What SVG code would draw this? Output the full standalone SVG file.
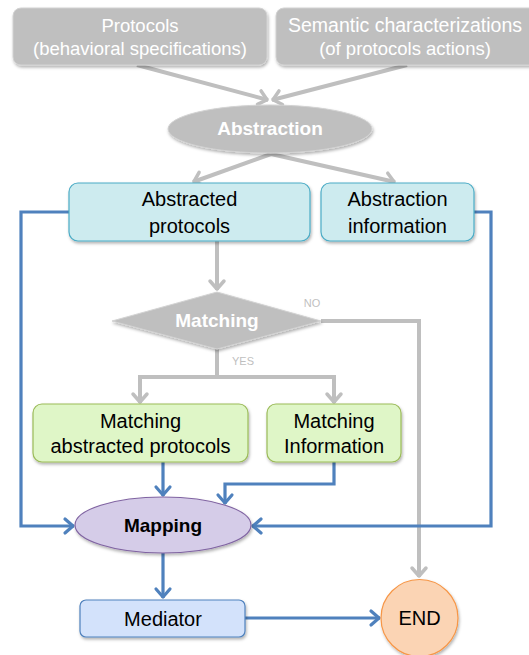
<svg xmlns="http://www.w3.org/2000/svg" width="529" height="655" viewBox="0 0 529 655">
<defs>
<filter id="sh" x="-10%" y="-10%" width="125%" height="140%">
<feDropShadow dx="1" dy="2" stdDeviation="1.5" flood-color="#000" flood-opacity="0.3"/>
</filter>
<marker id="ag" markerUnits="userSpaceOnUse" markerWidth="24" markerHeight="24" viewBox="-14 -12 24 24" refX="0" refY="0" orient="auto">
<path d="M-9,-7 L-1,0 L-9,7" fill="none" stroke="#bfbfbf" stroke-width="3.5" stroke-linecap="round" stroke-linejoin="round"/>
</marker>
<marker id="ab" markerUnits="userSpaceOnUse" markerWidth="24" markerHeight="24" viewBox="-14 -12 24 24" refX="0" refY="0" orient="auto">
<path d="M-9,-7 L-1,0 L-9,7" fill="none" stroke="#4f81bd" stroke-width="3.2" stroke-linecap="round" stroke-linejoin="round"/>
</marker>
</defs>
<style>
text{font-family:"Liberation Sans",Arial,sans-serif;text-anchor:middle}
.gbox{fill:#bfbfbf;stroke:#d2d2d2;stroke-width:1;filter:url(#sh)}
.cyan{fill:#cdebef;stroke:#4bacc6;stroke-width:1.2;filter:url(#sh)}
.green{fill:#dff6c7;stroke:#9bbb59;stroke-width:1.2;filter:url(#sh)}
.top{font-size:18.5px;fill:#ffffff}
.lbl{font-size:20px;fill:#000}
.bw{font-size:19px;font-weight:bold;fill:#ffffff}
.small{font-size:11px;fill:#bfbfbf}
.cg{fill:none;stroke:#bfbfbf;stroke-width:4;marker-end:url(#ag)}
.cg2{fill:none;stroke:#bfbfbf;stroke-width:4}
.cb{fill:none;stroke:#4f81bd;stroke-width:3.2;marker-end:url(#ab)}
</style>
<g id="connectors">
<line class="cg" x1="137" y1="65" x2="268" y2="100"/>
<line class="cg" x1="407" y1="65" x2="272" y2="100"/>
<line class="cg" x1="271" y1="154" x2="193" y2="182"/>
<line class="cg" x1="271" y1="154" x2="395" y2="182"/>
<line class="cg" x1="217" y1="241" x2="217" y2="290"/>
<polyline class="cg" points="321,321 419,321 419,577"/>
<line class="cg2" x1="217" y1="349" x2="217" y2="377"/>
<polyline class="cg" points="217,377 140,377 140,403"/>
<polyline class="cg" points="217,377 334,377 334,403"/>
<polyline class="cb" points="69,212 21,212 21,526 74,526"/>
<polyline class="cb" points="474,212 491,212 491,526 252,526"/>
<line class="cb" x1="163" y1="462" x2="163" y2="496"/>
<polyline class="cb" points="334,462 334,484 225,484 225,504"/>
<line class="cb" x1="163" y1="553" x2="163" y2="598"/>
<line class="cb" x1="245" y1="618" x2="380" y2="618"/>
</g>
<g id="protocols">
<rect class="gbox" x="13" y="8" width="254" height="57" rx="8"/>
<text class="top" x="140" y="32">Protocols</text>
<text class="top" x="140" y="55">(behavioral specifications)</text>
</g>
<g id="semantic">
<rect class="gbox" x="276" y="8" width="262" height="57" rx="8"/>
<text class="top" x="405" y="32" style="font-size:19.5px">Semantic characterizations</text>
<text class="top" x="405" y="55">(of protocols actions)</text>
</g>
<g id="abstraction">
<ellipse class="gbox" cx="270" cy="129" rx="102" ry="24"/>
<text class="bw" x="270" y="135">Abstraction</text>
</g>
<g id="abstracted-protocols">
<rect class="cyan" x="69" y="183" width="241" height="58" rx="9"/>
<text class="lbl" x="189.5" y="206">Abstracted</text>
<text class="lbl" x="189.5" y="233">protocols</text>
</g>
<g id="abstraction-information">
<rect class="cyan" x="321" y="183" width="153" height="58" rx="9"/>
<text class="lbl" x="397.5" y="206">Abstraction</text>
<text class="lbl" x="397.5" y="233">information</text>
</g>
<g id="matching">
<polygon class="gbox" points="112,321 217,292 321,321 217,349"/>
<text class="bw" x="217" y="327">Matching</text>
<text class="small" x="312" y="307">NO</text>
<text class="small" x="243" y="365">YES</text>
</g>
<g id="matching-abstracted-protocols">
<rect class="green" x="33" y="404" width="215" height="58" rx="9"/>
<text class="lbl" x="140.5" y="428">Matching</text>
<text class="lbl" x="140.5" y="453">abstracted protocols</text>
</g>
<g id="matching-information">
<rect class="green" x="267" y="404" width="134" height="58" rx="9"/>
<text class="lbl" x="334" y="428">Matching</text>
<text class="lbl" x="334" y="453">Information</text>
</g>
<g id="mapping">
<ellipse cx="163" cy="525" rx="88" ry="28" fill="#d5cce8" stroke="#8064a2" stroke-width="1.2" filter="url(#sh)"/>
<text x="163" y="532" style="font-size:19px;font-weight:bold;fill:#000">Mapping</text>
</g>
<g id="mediator">
<rect x="80" y="600" width="165" height="37" rx="6" fill="#d3e2fb" stroke="#4f81bd" stroke-width="1.2" filter="url(#sh)"/>
<text class="lbl" x="163" y="626">Mediator</text>
</g>
<g id="end">
<circle cx="419.5" cy="618" r="38.5" fill="#fbd4b4" stroke="#f79646" stroke-width="1.2" filter="url(#sh)"/>
<text class="lbl" x="419.5" y="625">END</text>
</g>
</svg>
